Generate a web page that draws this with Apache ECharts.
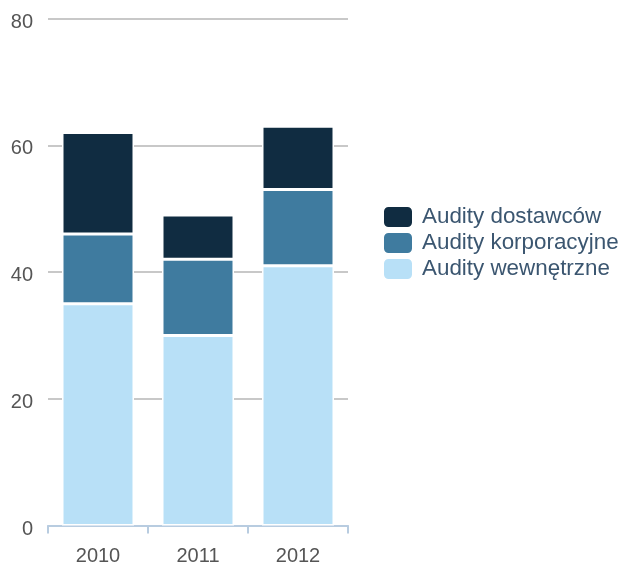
<!DOCTYPE html>
<html>
<head>
<meta charset="utf-8">
<script src="https://cdn.jsdelivr.net/npm/echarts@6/dist/echarts.min.js"></script>
<style>
  html, body { margin: 0; padding: 0; background: #fff; }
  #chart { width: 622px; height: 564px; }
</style>
</head>
<body>
<div id="chart"></div>
<script>
// Years on the category axis
const years = ['2010', '2011', '2012'];

// Number of audits per type, stacked from bottom to top
const internalAudits = [35, 30, 41];   // Audity wewnętrzne
const corporateAudits = [11, 12, 12];  // Audity korporacyjne
const supplierAudits = [16, 7, 10];    // Audity dostawców

const seriesNames = ['Audity wewnętrzne', 'Audity korporacyjne', 'Audity dostawców'];
const seriesColors = ['#b8e0f7', '#3f7b9f', '#102c41'];
const seriesValues = [internalAudits, corporateAudits, supplierAudits];

const chart = echarts.init(document.getElementById('chart'), null, { renderer: 'canvas' });

const fontFamily = 'Liberation Sans, Arial, sans-serif';

chart.setOption({
  animation: false,
  textStyle: { fontFamily },
  grid: {
    left: 48, right: 274, top: 18.5, bottom: 38.5,
    containLabel: false,
    outerBoundsMode: 'none'
  },
  legend: {
    data: [seriesNames[2], seriesNames[1], seriesNames[0]],
    orient: 'vertical',
    left: 382,
    top: 205,
    padding: 0,
    itemWidth: 30,
    itemHeight: 22,
    itemGap: 2,
    icon: 'roundRect',
    textStyle: { fontSize: 22.4, color: '#3b5670', fontFamily, lineHeight: 22, height: 22, padding: [0, 0, 0, 4] },
    selectedMode: false
  },
  xAxis: {
    type: 'category',
    data: years,
    axisLine: { lineStyle: { color: '#b8cce0', width: 2 } },
    axisTick: { show: true, length: 8, lineStyle: { color: '#b8cce0', width: 2 } },
    axisLabel: { fontSize: 20, color: '#555', margin: 21, fontFamily }
  },
  yAxis: {
    type: 'value',
    min: 0,
    max: 80,
    interval: 20,
    axisLine: { show: false },
    axisTick: { show: false },
    axisLabel: { fontSize: 20, color: '#555', margin: 15, fontFamily, verticalAlign: 'top', lineHeight: 7 },
    splitLine: { lineStyle: { color: '#c8c8c8', width: 2 } }
  },
  series: seriesValues.map((vals, i) => ({
    name: seriesNames[i],
    type: 'bar',
    stack: 'audits',
    data: vals,
    barWidth: '72%',
    itemStyle: { color: seriesColors[i], borderColor: '#fff', borderWidth: 1.5 },
    emphasis: { disabled: true }
  }))
});
</script>
</body>
</html>
